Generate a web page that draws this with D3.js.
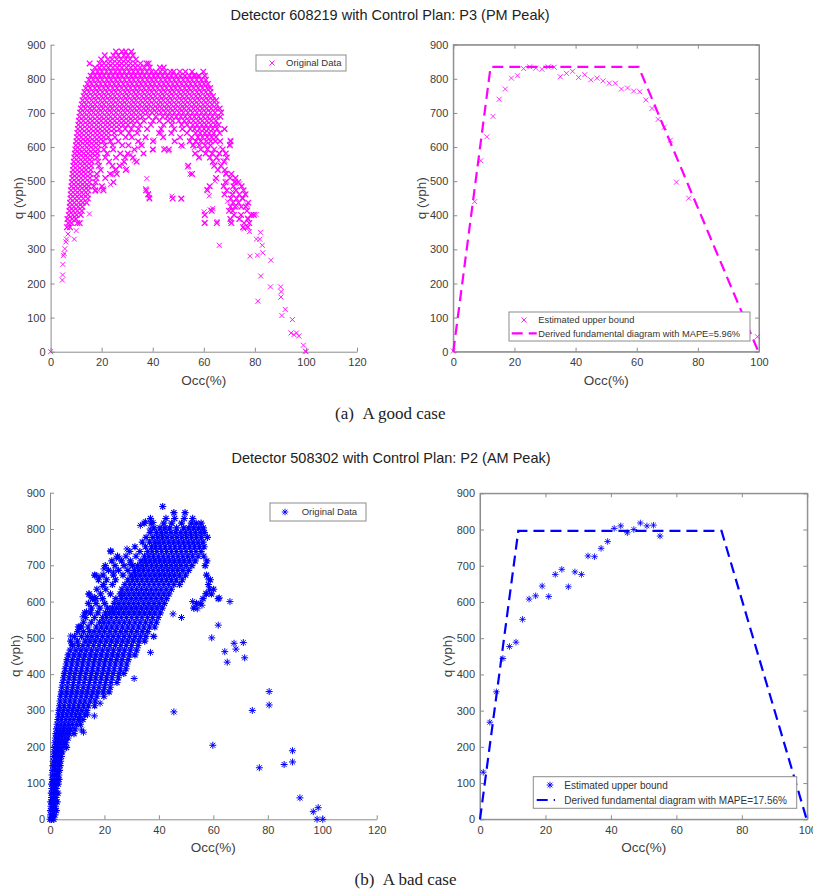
<!DOCTYPE html>
<html>
<head>
<meta charset="utf-8">
<script src="https://cdn.jsdelivr.net/npm/d3@7"></script>
<style>
  body { margin: 0; background: #fff; }
  svg { display: block; }
</style>
</head>
<body>
<svg id="fig" width="813" height="896"></svg>
<script>
// ---------- Detector 608219, plan P3 (PM peak): raw occupancy / flow samples ----------
// Each row: [flow q (vph), list of occupancy (%) values observed near that flow]
const magentaRows = [
  [880, [25.6, 27.9, 29.4, 31.6]],
  [869, [21.2, 24.6, 26.5, 28.7, 30.3, 32.2]],
  [857, [19.8, 22.4, 24.1, 25.9, 27.6, 29.4, 31.1, 33.4]],
  [845, [15.3, 19.2, 20.9, 22.6, 24.3, 26.1, 27.8, 29.6, 31.3, 33.1, 35.2, 37.6, 38.4]],
  [833, [17.4, 19.1, 20.9, 22.6, 24.4, 26.1, 27.9, 29.7, 31.4, 33.2, 35, 36.7, 38.8, 42.8, 44.3]],
  [821, [16.6, 18.4, 20.1, 21.9, 23.6, 25.4, 27.1, 28.9, 30.7, 32.4, 34.2, 35.9, 37.7, 39.5, 41.2, 43, 44.8, 46.9, 48.2, 50.6, 52.8, 55.4, 59.8]],
  [809, [15.7, 17.4, 19.2, 20.9, 22.7, 24.4, 26.2, 27.9, 29.7, 31.5, 33.2, 35, 36.7, 38.5, 40.3, 42, 43.8, 45.6, 47.3, 49.1, 50.8, 52.6, 54.4, 56.3, 58.1, 60.4]],
  [797, [15, 16.7, 18.5, 20.2, 22, 23.7, 25.5, 27.2, 29, 30.8, 32.5, 34.3, 36, 37.8, 39.6, 41.3, 43.1, 44.9, 46.6, 48.4, 50.1, 51.9, 53.7, 55.4, 57.2, 59, 60.8]],
  [785, [14.4, 16.1, 17.9, 19.6, 21.4, 23.1, 24.9, 26.6, 28.4, 30.2, 31.9, 33.7, 35.4, 37.2, 39, 40.7, 42.5, 44.3, 46, 47.8, 49.5, 51.3, 53.1, 54.8, 56.6, 58.4, 60.1, 61.6]],
  [773, [13.8, 15.5, 17.3, 19, 20.8, 22.5, 24.3, 26, 27.8, 29.6, 31.3, 33.1, 34.8, 36.6, 38.4, 40.1, 41.9, 43.7, 45.4, 47.2, 48.9, 50.7, 52.5, 54.2, 56, 57.8, 59.5, 61.3, 62.5]],
  [761, [13.3, 15, 16.8, 18.5, 20.3, 22, 23.8, 25.5, 27.3, 29.1, 30.8, 32.6, 34.3, 36.1, 37.9, 39.6, 41.4, 43.2, 44.9, 46.7, 48.4, 50.2, 52, 53.7, 55.5, 57.3, 59, 60.8, 62.6]],
  [749, [12.9, 14.6, 16.4, 18.1, 19.9, 21.6, 23.4, 25.1, 26.9, 28.7, 30.4, 32.2, 33.9, 35.7, 37.5, 39.2, 41, 42.8, 44.5, 46.3, 48, 49.8, 51.6, 53.3, 55.1, 56.9, 58.6, 60.4, 62.1, 63.6]],
  [737, [12.5, 14.2, 16, 17.7, 19.5, 21.2, 23, 24.7, 26.5, 28.3, 30, 31.8, 33.5, 35.3, 37.1, 38.8, 40.6, 42.4, 44.1, 45.9, 47.6, 49.4, 51.2, 52.9, 54.7, 56.5, 58.2, 60, 61.7, 63.5, 64.8]],
  [725, [12.2, 13.9, 15.7, 17.4, 19.2, 20.9, 22.7, 24.4, 26.2, 28, 29.7, 31.5, 33.2, 35, 36.8, 38.5, 40.3, 42.1, 43.8, 45.6, 47.3, 49.1, 50.9, 52.6, 54.4, 56.2, 57.9, 59.7, 61.4, 63.2, 65]],
  [713, [11.9, 13.6, 15.4, 17.1, 18.9, 20.6, 22.4, 24.1, 25.9, 27.7, 29.4, 31.2, 32.9, 34.7, 36.5, 38.2, 40, 41.8, 43.5, 45.3, 47, 48.8, 50.6, 52.3, 54.1, 55.9, 57.6, 59.4, 61.1, 62.9, 64.7, 66.2]],
  [701, [11.6, 13.3, 15.1, 16.8, 18.6, 20.3, 22.1, 23.8, 25.6, 27.4, 29.1, 30.9, 32.6, 34.4, 36.2, 37.9, 39.7, 41.5, 43.2, 45, 46.7, 48.5, 50.3, 52, 53.8, 55.6, 57.3, 59.1, 60.8, 62.6, 64.4, 66.8]],
  [689, [11.3, 13, 14.8, 16.5, 18.3, 20, 21.8, 23.5, 25.3, 27.1, 28.8, 30.6, 32.3, 34.1, 35.9, 38.4, 41.2, 43.9, 45.7, 47.4, 49.2, 51, 52.7, 54.5, 56.3, 58, 59.8, 61.5, 63.3, 65.1, 66.5]],
  [677, [11.1, 12.8, 14.6, 16.3, 18.1, 19.8, 21.6, 23.3, 25.1, 26.9, 28.6, 30.4, 32.1, 33.9, 36.5, 40.1, 42.6, 46, 47.8, 50.2, 52.4, 54.1, 55.9, 57.7, 59.4, 61.2, 62.9, 64.7]],
  [665, [10.9, 12.6, 14.4, 16.1, 17.9, 19.6, 21.4, 23.1, 24.9, 26.7, 28.4, 30.3, 32.5, 35, 39.3, 44.2, 47.5, 51.3, 53.5, 55.7, 57.4, 59.2, 60.9, 62.7, 64.5, 65.8]],
  [653, [10.7, 12.4, 14.2, 15.9, 17.7, 19.4, 21.2, 22.9, 24.8, 26.9, 29.2, 31.6, 34.4, 37.8, 43.3, 48.4, 51.6, 54.7, 56.4, 58.3, 60.1, 61.8, 63.5, 65.2, 68.1]],
  [641, [10.5, 12.2, 14, 15.7, 17.5, 19.2, 21, 22.7, 24.9, 27.5, 30.7, 33.9, 42.5, 47.3, 53.4, 56.8, 58.6, 60.4, 62.1, 63.9, 66.2]],
  [629, [10.3, 12, 13.8, 15.5, 17.3, 19, 20.8, 22.6, 25.2, 29.4, 31.8, 37.2, 44.1, 50.7, 55.2, 57.7, 59.5, 61.3, 63.1, 64.8]],
  [617, [10.1, 11.8, 13.6, 15.3, 17.1, 18.8, 20.6, 23.4, 26.5, 34.3, 40.1, 48.6, 54.5, 56.9, 58.8, 61, 62.7, 64.5, 66.4, 70.5]],
  [605, [9.9, 11.6, 13.4, 15.1, 16.9, 18.7, 21.2, 24.3, 28.1, 30.5, 35.7, 51.2, 55.8, 58.2, 60.5, 62.6, 70.2]],
  [593, [9.7, 11.4, 13.2, 14.9, 16.7, 18.5, 20.9, 24.5, 32.8, 40, 44.5, 46.3, 58.8, 61.4, 64.1, 67.4]],
  [581, [9.5, 11.2, 13, 14.7, 16.5, 18.3, 22.1, 27.3, 30.2, 36.4, 56.6, 60.7, 63.3, 66.1, 68.6]],
  [569, [9.3, 11, 12.8, 14.5, 16.3, 18.2, 21.4, 25.6, 29.2, 32.2, 58.1, 62.4, 65, 69]],
  [557, [9.1, 10.8, 12.6, 14.3, 16.1, 18.6, 22.9, 28.8, 33.7, 63.5, 67.9]],
  [545, [8.9, 10.6, 12.4, 14.1, 15.9, 18.9, 24.2, 27, 53.9, 64.1, 66.7]],
  [533, [8.8, 10.5, 12.2, 13.9, 15.7, 19.6, 25.3, 29.5, 65.5, 68.2]],
  [521, [8.6, 10.3, 12, 13.7, 15.5, 18.1, 23.3, 25.9, 55.4, 68.8, 70.8]],
  [509, [8.5, 10.2, 11.9, 13.6, 15.4, 17.9, 21.4, 64.8, 70.3, 72.4]],
  [497, [8.3, 10, 11.7, 13.4, 15.2, 17.6, 24.6, 68.5, 72.1, 73.5]],
  [485, [8.2, 9.9, 11.6, 13.3, 14.9, 16.9, 20.1, 62.3, 67.8, 71.6, 74.8]],
  [473, [8, 9.7, 11.4, 13.1, 14.7, 17.5, 20.7, 37.4, 61.4, 69, 72.6, 75.6]],
  [461, [7.9, 9.6, 11.3, 12.9, 14.5, 38.2, 68.1, 71.2, 73.9, 76.3]],
  [449, [7.8, 9.5, 11.1, 12.8, 14.6, 38.7, 47.8, 51.2, 70.6, 72.8, 75.2]],
  [437, [7.6, 9.3, 11, 12.6, 14.1, 71.5, 73.6, 77.4]],
  [425, [7.5, 9.1, 10.8, 12.4, 70.5, 72.2, 74.7, 76.4]],
  [413, [7.4, 8.9, 10.5, 12.2, 63.1, 69.9, 71.3, 76.9]],
  [401, [7.1, 8.7, 10.2, 11.8, 60.4, 71.8, 74.6, 78.5, 79.6]],
  [389, [6.6, 8.4, 9.9, 70.4, 73.9, 77.3]],
  [377, [6.9, 8.2, 10.5, 11.4, 60.3, 65.1, 70.8, 75.8, 77.8]],
  [365, [6.4, 7.6, 75.4, 77.2]]
];
// Isolated samples of the same detector: [occupancy %, flow vph]
const magentaSparse = [
  [0,0],[4.6,210],[4.7,225],[4.8,256],[5,282],[5.3,288],[5.6,302],[6,322],[6.2,330],[6.8,345],
  [9.3,330],[10,355],[15.2,404],[17.5,470],[18.8,473],[20.6,478],[23.4,490],[24.2,520],[25.8,535],
  [28.3,548],[29.9,536],[31.5,578],[32.7,560],[34.2,598],[35.5,612],[37.3,478],[37.7,508],[38.4,464],
  [38.6,452],[40.2,592],[40.6,621],[43.3,640],[44.9,596],[46.2,588],[47.5,456],[51.2,448],[51.8,602],
  [53.6,541],[54.6,521],[56.2,598],[58.2,572],[60.1,410],[60.6,378],[61.2,476],[62.1,457],[62.5,416],
  [63.5,420],[64.4,500],[65.2,382],[65.8,560],[66.1,312],[66.5,600],[68.2,652],[68.4,560],[68.6,523],
  [69,500],[69.3,441],[70.2,608],[70.4,620],[70.5,382],[71.2,470],[72.3,500],[73.2,425],[74.1,492],
  [75.1,452],[75.7,360],[76.3,462],[77,430],[77.2,392],[77.9,352],[78.1,280],[79.2,402],[80.5,402],
  [80.6,330],[81,283],[81.2,148],[81.9,330],[82.2,350],[82.3,222],[82.9,312],[83.1,290],[86.3,268],
  [86.1,190],[90.1,190],[90.3,176],[90.2,160],[90.6,106],[91.9,124],[94.7,94],[94.2,55],[95.3,50],
  [96.3,55],[97.2,46],[99,19],[99.8,2],[100,0],[56.2,812],[57.5,808]
];
// Estimated upper bound of flow per occupancy bin, and fitted trapezoidal diagram
const upperBoundA = [
  [0,2],[7,440],[9,560],[11,630],[13,690],[15,740],[17,770],[19,802],[21,809],[23,830],[25,835],
  [27,831],[29,828],[31,835],[33,834],[35,806],[37,816],[39,822],[41,804],[43,812],[45,797],
  [47,802],[49,794],[51,787],[53,787],[55,770],[57,773],[59,764],[61,762],[63,738],[65,713],
  [67,681],[69,658],[71,620],[73,497],[77,450],[99.5,44]
];
const diagramA = [[0,0],[12.2,835],[60.6,835],[99.8,0]];

// ---------- Detector 508302, plan P2 (AM peak) ----------
const blueRows = [
  [0, [0, 0.6, 1.4]],
  [12, [0.3, 1, 1.8]],
  [24, [0.2, 0.9, 1.6, 2.3]],
  [36, [0.4, 1.2, 2]],
  [48, [0.3, 1.1, 1.9, 2.6]],
  [60, [0.6, 1.4, 2.2]],
  [72, [0.5, 1.3, 2.1, 2.9]],
  [85, [0.7, 1.5, 2.3]],
  [97, [0.6, 1.4, 2.2, 3]],
  [110, [0.9, 1.7, 2.5, 3.3]],
  [122, [0.8, 1.6, 2.4, 3.2]],
  [135, [1, 1.8, 2.6, 3.5]],
  [148, [1.1, 2, 2.8, 3.7]],
  [160, [1.2, 2.1, 3, 3.9]],
  [173, [1.3, 2.3, 3.2, 4.2]],
  [186, [1.5, 2.5, 3.5, 4.5]],
  [198, [1.6, 2.6, 3.7, 4.8, 6.1]],
  [211, [1.8, 2.9, 4, 5.1, 5.9]],
  [224, [2, 3.1, 4.3, 5.5, 6.6]],
  [236, [2.2, 3.4, 4.6, 5.9, 7.1, 8.8]],
  [249, [2.4, 3.7, 5, 6.3, 7.6, 9.2]],
  [262, [2.6, 4, 5.4, 6.8, 8.2, 9.8, 11.2]],
  [275, [2.9, 4.3, 5.8, 7.3, 8.8, 10.4, 12.1]],
  [288, [3.1, 4.6, 6.2, 7.8, 9.4, 11, 12.8]],
  [300, [3.3, 4.9, 6.6, 8.3, 10, 11.7, 13.5]],
  [313, [3.5, 5.2, 7, 8.7, 10.5, 12.3, 14.1, 16.4]],
  [326, [3.7, 5.5, 7.3, 9.1, 11, 12.8, 14.7, 16.6]],
  [339, [3.9, 5.8, 7.6, 9.5, 11.4, 13.3, 15.2, 17.2, 19.8]],
  [351, [4.2, 6.1, 8, 9.9, 11.8, 13.7, 15.7, 17.6, 19.6, 21.7]],
  [364, [4.4, 6.3, 8.3, 10.2, 12.2, 14.1, 16.1, 18, 20, 22.1]],
  [377, [4.7, 6.6, 8.6, 10.6, 12.5, 14.5, 16.5, 18.4, 20.4, 22.4, 24.6]],
  [390, [5, 7, 8.9, 10.9, 12.9, 14.9, 16.8, 18.8, 20.8, 22.8, 25.1]],
  [402, [5.3, 7.3, 9.2, 11.2, 13.2, 15.2, 17.2, 19.2, 21.2, 23.2, 25.4, 27.1]],
  [415, [5.6, 7.6, 9.6, 11.6, 13.6, 15.6, 17.6, 19.6, 21.6, 23.6, 25.8, 27.9]],
  [428, [6, 8, 10, 12, 14, 16, 18, 20, 22, 24, 26.1, 28.2]],
  [440, [6.3, 8.3, 10.3, 12.3, 14.4, 16.4, 18.4, 20.4, 22.4, 24.5, 26.5, 28.7]],
  [453, [6.7, 8.8, 10.8, 12.8, 14.8, 16.8, 18.8, 20.9, 22.9, 24.9, 26.9, 29.1, 31.2]],
  [466, [7.4, 9.5, 11.4, 13.3, 15.3, 17.3, 19.3, 21.3, 23.3, 25.4, 27.4, 29.5, 31.8]],
  [479, [8.2, 10.4, 12.1, 14, 16, 18, 20, 22, 24, 26, 28, 30, 32.3]],
  [491, [7.6, 10.1, 12.9, 14.7, 16.6, 18.6, 20.6, 22.6, 24.6, 26.6, 28.6, 30.6, 32.7, 34.8]],
  [504, [9, 11.6, 13.7, 15.4, 17.3, 19.3, 21.3, 23.2, 25.2, 27.2, 29.2, 31.2, 33.2, 35.2, 38.1]],
  [517, [10.2, 12.3, 14.5, 16.2, 18.1, 20, 22, 24, 26, 27.9, 29.9, 31.9, 33.9, 35.9]],
  [530, [10.7, 11.5, 14, 17, 18.9, 20.8, 22.7, 24.6, 26.6, 28.6, 30.5, 32.5, 34.5, 36.5, 38.5]],
  [543, [12.3, 15.2, 18.2, 19.8, 21.6, 23.5, 25.4, 27.3, 29.2, 31.2, 33.1, 35.1, 37.1, 39.1]],
  [556, [13.1, 16.4, 19.3, 20.8, 22.5, 24.4, 26.2, 28.1, 30, 31.9, 33.8, 35.8, 37.7, 39.7]],
  [569, [12.8, 14.9, 17.6, 20.4, 21.9, 23.4, 25.2, 27.1, 29, 30.9, 32.8, 34.7, 36.6, 38.5, 40.5]],
  [582, [15.2, 18.3, 21.2, 22.9, 24.5, 26.2, 28, 29.9, 31.7, 33.6, 35.5, 37.4, 39.3, 41.2, 52.8]],
  [595, [14.1, 16.9, 20.1, 23.6, 25.3, 27.1, 28.9, 30.7, 32.5, 34.4, 36.3, 38.2, 40.1, 42, 53.8, 55.2]],
  [608, [15.6, 16.8, 19.3, 24.2, 26.2, 28, 29.8, 31.6, 33.4, 35.3, 37.1, 39, 40.9, 42.8, 56.2, 61.8]],
  [621, [14.3, 18.6, 22.2, 25.8, 27.2, 29, 30.8, 32.6, 34.4, 36.2, 38, 39.9, 41.8, 43.7, 57.4, 59.3]],
  [634, [17.2, 20.5, 26.4, 28.3, 30, 31.8, 33.6, 35.4, 37.2, 39, 40.8, 42.7, 44.6, 58.6, 60.1]],
  [647, [19.7, 22.9, 27.5, 29.3, 31, 32.8, 34.6, 36.4, 38.2, 40, 41.8, 43.6, 45.5, 47.6, 58.2]],
  [660, [17.8, 20.8, 24.1, 28.6, 30.3, 32, 33.8, 35.6, 37.4, 39.2, 41, 42.8, 44.6, 46.4, 48.6, 58.9]],
  [673, [16.4, 19.5, 23.3, 26.8, 29.8, 31.4, 33.1, 34.9, 36.7, 38.5, 40.3, 42.1, 43.9, 45.7, 47.6, 49.8, 57.5]],
  [686, [21.5, 25.2, 28.6, 31, 32.6, 34.3, 36.1, 37.9, 39.7, 41.5, 43.3, 45.1, 46.9, 48.8, 50.9]],
  [699, [20.3, 23.9, 27.2, 30.4, 32.2, 33.8, 35.5, 37.3, 39.1, 40.9, 42.7, 44.5, 46.3, 48.1, 50, 52.1, 57]],
  [712, [22.7, 26.3, 29.5, 33.4, 35, 36.7, 38.5, 40.3, 42.1, 43.9, 45.7, 47.5, 49.3, 51.2, 53.3, 57.6]],
  [725, [24.8, 27.9, 31.6, 34.7, 36.3, 38, 39.8, 41.6, 43.4, 45.2, 47, 48.8, 50.6, 52.4, 54.4, 56.5]],
  [738, [22.4, 29.3, 33, 35.9, 37.5, 39.2, 41, 42.8, 44.6, 46.4, 48.2, 50, 51.8, 53.6, 55.5]],
  [751, [31.2, 35.1, 37.3, 38.8, 40.5, 42.3, 44.1, 45.9, 47.7, 49.5, 51.3, 53.1, 54.9, 56.6]],
  [764, [33.9, 36.6, 38.5, 40.1, 41.8, 43.6, 45.4, 47.2, 49, 50.8, 52.6, 54.4, 56.2]],
  [777, [35.3, 37.8, 39.6, 41.3, 43, 44.8, 46.6, 48.4, 50.2, 52, 53.8, 55.6, 57.8]],
  [790, [36.8, 39.1, 40.9, 42.6, 44.4, 46.2, 48, 49.8, 51.6, 53.4, 55.2, 56.7]],
  [803, [38.2, 40.4, 42.2, 44, 46.5, 49.1, 51, 52.8, 54.6, 56.3]],
  [816, [34.6, 37.2, 41.8, 44.7, 48.3, 51.9, 53.7, 55.5]],
  [829, [36.9, 42.6, 45.8, 49.3, 52.4]],
  [845, [45.5, 49.6]],
  [862, [41.4]]
];
const blueSparse = [
  [7.6,505],[8.2,482],[10.4,530],[11.2,530],[12.1,558],[13.4,572],[14.4,620],[15.1,612],[16.4,612],
  [16.9,672],[18,668],[19.2,642],[19.8,690],[22.2,740],[23.3,682],[24.4,720],[25.4,720],[28.3,745],
  [29.4,702],[30.4,700],[30.9,388],[33.2,810],[35.1,820],[36.8,800],[37.9,818],[36.9,460],[45.5,296],
  [48.3,556],[45.2,566],[52.4,600],[54.1,580],[55.8,590],[57.3,622],[58.2,662],[59.4,500],[59.8,204],
  [61.8,535],[62.2,610],[64.2,462],[65.1,433],[66.1,600],[67.6,485],[68.3,469],[71,487],[71.5,445],
  [74.3,300],[76.9,142],[80.5,352],[80.5,315],[86,151],[89.1,189],[89.1,158],[91.8,59],[96.7,21],
  [98.5,32],[98.1,0],[100.2,0],[11.6,246],[16.3,285],[10.9,275],[13.8,288],[12.3,240],[18.4,320]
];
const upperBoundB = [
  [1,130],[3,268],[5,352],[7,444],[9,477],[11,489],[13,552],[15,608],[17,617],[19,644],[21,615],
  [23,676],[25,690],[27,642],[29,683],[31,676],[33,727],[35,725],[37,748],[39,767],[41,803],
  [43,810],[45,791],[47,800],[49,818],[51,810],[53,812],[55,782]
];
const diagramB = [[0,0],[11.7,796],[73.8,796],[99.8,0]];

// Axis ticks
const qTicks = [0, 100, 200, 300, 400, 500, 600, 700, 800, 900];
const occTicksWide = [0, 20, 40, 60, 80, 100, 120];
const occTicksNarrow = [0, 20, 40, 60, 80, 100];

// Text
const titleA = "Detector 608219 with Control Plan: P3 (PM Peak)";
const titleB = "Detector 508302 with Control Plan: P2 (AM Peak)";
const captionA = "(a)\u00a0\u00a0A good case";
const captionB = "(b)\u00a0\u00a0A bad case";
const legendRaw = "Original Data";
const legendBound = "Estimated upper bound";
const legendDiagramA = "Derived fundamental diagram with MAPE=5.96%";
const legendDiagramB = "Derived fundamental diagram with MAPE=17.56%";

// ---------- drawing ----------
const MAGENTA = "#ff00ff", BLUE = "#0000ff";
const AXIS = "#8c8c8c", TICKTEXT = "#3c3c3c", LABEL = "#404040";
const SANS = "'Liberation Sans', Arial, Helvetica, sans-serif";
const SERIF = "'Liberation Serif', 'Times New Roman', serif";
const svg = d3.select("#fig");

const flatten = rows => rows.flatMap(([q, occs]) => occs.map(o => [o, q]));

function crossPath(s) { return `M${-s},${-s}L${s},${s}M${-s},${s}L${s},${-s}`; }
function starPath(s) {
  const d = s * 0.72;
  return `M${-s},0H${s}M0,${-s}V${s}M${-d},${-d}L${d},${d}M${-d},${d}L${d},${-d}`;
}

function makePanel(cfg) {
  const x = d3.scaleLinear().domain([0, cfg.xMax]).range([cfg.l, cfg.r]);
  const y = d3.scaleLinear().domain([0, 900]).range([cfg.b, cfg.t]);
  const g = svg.append("g");

  const style = sel => {
    sel.attr("font-family", SANS).attr("font-size", 11);
    sel.select(".domain").attr("stroke", AXIS).attr("stroke-width", 1);
    sel.selectAll(".tick line").attr("stroke", AXIS);
    sel.selectAll(".tick text").attr("fill", TICKTEXT);
  };

  if (cfg.box) {
    g.append("rect").attr("x", cfg.l).attr("y", cfg.t)
      .attr("width", cfg.r - cfg.l).attr("height", cfg.b - cfg.t)
      .attr("fill", "none").attr("stroke", AXIS);
    g.append("g").attr("transform", `translate(0,${cfg.t})`)
      .call(d3.axisTop(x).tickValues(cfg.xTicks).tickSize(-4).tickSizeOuter(0).tickFormat(""))
      .call(style);
    g.append("g").attr("transform", `translate(${cfg.r},0)`)
      .call(d3.axisRight(y).tickValues(qTicks).tickSize(-4).tickSizeOuter(0).tickFormat(""))
      .call(style);
  }
  g.append("g").attr("transform", `translate(0,${cfg.b})`)
    .call(d3.axisBottom(x).tickValues(cfg.xTicks).tickSize(-4).tickSizeOuter(0).tickPadding(7))
    .call(style);
  g.append("g").attr("transform", `translate(${cfg.l},0)`)
    .call(d3.axisLeft(y).tickValues(qTicks).tickSize(-4).tickSizeOuter(0).tickPadding(5))
    .call(style);

  // axis titles
  g.append("text").attr("x", (cfg.l + cfg.r) / 2).attr("y", cfg.b + 33)
    .attr("text-anchor", "middle").attr("font-family", SANS).attr("font-size", 13.5)
    .attr("fill", LABEL).text("Occ(%)");
  g.append("text")
    .attr("transform", `translate(${cfg.yLabelX},${(cfg.t + cfg.b) / 2}) rotate(-90)`)
    .attr("text-anchor", "middle").attr("font-family", SANS).attr("font-size", 13.5)
    .attr("fill", LABEL).text("q (vph)");
  return { x, y, g };
}

function drawMarkers(p, data, color, path, width) {
  p.g.append("g").selectAll("path").data(data).join("path")
    .attr("transform", d => `translate(${p.x(d[0])},${p.y(d[1])})`)
    .attr("d", path).attr("fill", "none").attr("stroke", color)
    .attr("stroke-width", width);
}

function drawDiagram(p, data, color) {
  p.g.append("path").datum(data)
    .attr("d", d3.line().x(d => p.x(d[0])).y(d => p.y(d[1])))
    .attr("fill", "none").attr("stroke", color).attr("stroke-width", 2.2)
    .attr("stroke-dasharray", "11,6");
}

function legend(box, rows, fontSize) {
  const g = svg.append("g");
  g.append("rect").attr("x", box.x).attr("y", box.y).attr("width", box.w).attr("height", box.h)
    .attr("fill", "#fff").attr("stroke", AXIS);
  rows.forEach(r => {
    if (r.marker) {
      g.append("path").attr("transform", `translate(${r.mx},${r.y})`).attr("d", r.marker)
        .attr("fill", "none").attr("stroke", r.color).attr("stroke-width", 0.9);
    }
    if (r.line) {
      g.append("line").attr("x1", r.line[0]).attr("x2", r.line[1]).attr("y1", r.y).attr("y2", r.y)
        .attr("stroke", r.color).attr("stroke-width", 2.2).attr("stroke-dasharray", "11,6");
    }
    g.append("text").attr("x", r.tx).attr("y", r.y + fontSize * 0.36)
      .attr("font-family", SANS).attr("font-size", fontSize).attr("fill", "#333").text(r.text);
  });
}

// ----- top row -----
const pA1 = makePanel({ l: 50.6, r: 357, t: 44.7, b: 351.7, xMax: 120, xTicks: occTicksWide, box: false, yLabelX: 23 });
drawMarkers(pA1, flatten(magentaRows), MAGENTA, crossPath(2.8), 1.25);
drawMarkers(pA1, magentaSparse, MAGENTA, crossPath(2.5), 0.9);
legend({ x: 256, y: 55, w: 90, h: 16 },
  [{ y: 63, mx: 272, marker: crossPath(2.5), color: MAGENTA, tx: 286, text: legendRaw }], 9.5);

const pA2 = makePanel({ l: 453.3, r: 759, t: 44.7, b: 351.7, xMax: 100, xTicks: occTicksNarrow, box: true, yLabelX: 425.5 });
drawMarkers(pA2, upperBoundA, MAGENTA, crossPath(2.5), 0.8);
drawDiagram(pA2, diagramA, MAGENTA);
legend({ x: 509, y: 312, w: 241, h: 29 }, [
  { y: 320, mx: 524, marker: crossPath(2.5), color: MAGENTA, tx: 538.3, text: legendBound },
  { y: 333.3, line: [511.7, 536.7], color: MAGENTA, tx: 538.3, text: legendDiagramA }
], 9.3);

svg.append("text").attr("x", 390).attr("y", 20).attr("text-anchor", "middle")
  .attr("font-family", SANS).attr("font-size", 14.5).attr("fill", "#222").text(titleA);
svg.append("text").attr("x", 390.3).attr("y", 419).attr("text-anchor", "middle")
  .attr("font-family", SERIF).attr("font-size", 17).attr("fill", "#222").text(captionA);

// ----- bottom row -----
const pB1 = makePanel({ l: 50, r: 376.7, t: 492.7, b: 819.3, xMax: 120, xTicks: occTicksWide, box: false, yLabelX: 20 });
drawMarkers(pB1, flatten(blueRows), BLUE, starPath(3.6), 1.15);
drawMarkers(pB1, blueSparse, BLUE, starPath(3.5), 1);
legend({ x: 270, y: 503, w: 96, h: 18 },
  [{ y: 512, mx: 285, marker: starPath(3.3), color: BLUE, tx: 301.7, text: legendRaw }], 9.5);

const pB2 = makePanel({ l: 480, r: 807.3, t: 493.3, b: 819.3, xMax: 100, xTicks: occTicksNarrow, box: true, yLabelX: 451.5 });
drawMarkers(pB2, upperBoundB, BLUE, starPath(3.3), 0.85);
drawDiagram(pB2, diagramB, BLUE);
legend({ x: 533.3, y: 776.7, w: 263.4, h: 31.6 }, [
  { y: 785, mx: 550, marker: starPath(3.3), color: BLUE, tx: 564.3, text: legendBound },
  { y: 800, line: [536.7, 555], color: BLUE, tx: 564.3, text: legendDiagramB }
], 10);

svg.append("text").attr("x", 391).attr("y", 462.5).attr("text-anchor", "middle")
  .attr("font-family", SANS).attr("font-size", 14.5).attr("fill", "#222").text(titleB);
svg.append("text").attr("x", 405.5).attr("y", 885).attr("text-anchor", "middle")
  .attr("font-family", SERIF).attr("font-size", 17).attr("fill", "#222").text(captionB);
</script>
</body>
</html>
